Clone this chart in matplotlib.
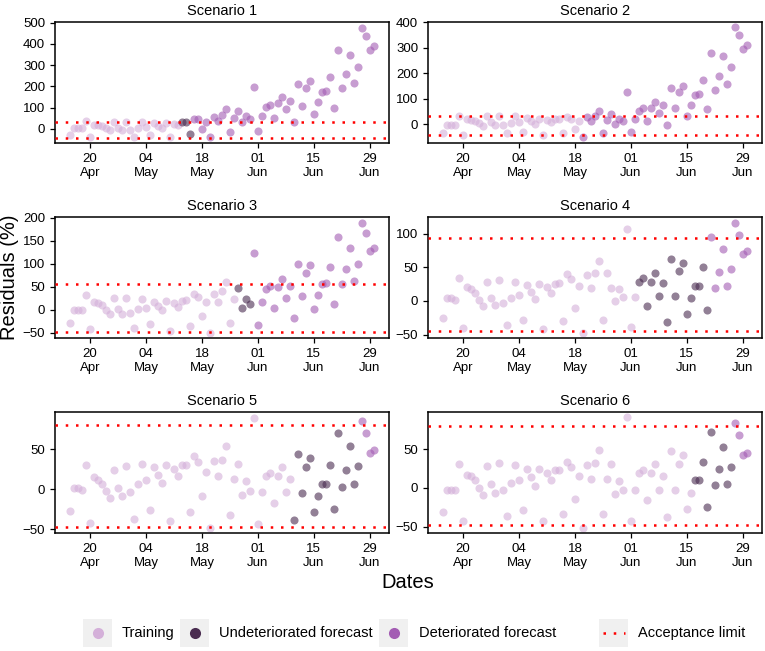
import matplotlib
matplotlib.use('Agg')
import numpy as np
import pandas as pd
import matplotlib.pyplot as plt
import matplotlib.dates as mdates
from matplotlib.patches import Rectangle

plt.rcParams['font.family'] = ['Liberation Sans', 'DejaVu Sans']

# ---------------- data ----------------
start_date = '2020-04-15'
n_days = 77
dates = pd.date_range(start_date, periods=n_days, freq='D')

tick_dates = ['2020-04-20', '2020-05-04', '2020-05-18', '2020-06-01', '2020-06-15', '2020-06-29']

scenario_titles = ['Scenario 1', 'Scenario 2', 'Scenario 3', 'Scenario 4', 'Scenario 5', 'Scenario 6']

s1 = [-28, 2, 2, 2, 36, -40, 19, 16, 11, 3, -8, 30, 3, -8, 30, -6, -37, 6, 30, 9,
      -28, 25, 12, 3, 25, -40, 22, 16, 30, 30, -25, 48, 44, -2, 34, -40, 56, 39, 67, 94,
      -14, 52, 83, 33, 61, 48, 198, -11, 58, 102, 114, 52, 120, 148, 91, 133, 30, 212, 109, 192,
      223, 72, 125, 172, 177, 245, 100, 370, 191, 256, 348, 217, 289, 477, 439, 369, 388]
s2 = [-34, -4, -4, -4, 33, -42, 20, 18, 13, 3, -5, 33, 8, -4, 34, -3, -36, 5, 31, 9,
      -30, 23, 13, 1, 22, -44, 16, 7, 20, 20, -35, 29, 21, -17, 13, -52, 27, 12, 33, 53,
      -33, 18, 40, 1, 21, 13, 126, -31, 20, 52, 63, 14, 65, 87, 44, 76, -3, 141, 63, 126,
      152, 34, 76, 113, 120, 175, 60, 279, 135, 190, 267, 160, 223, 380, 352, 294, 313]
s3 = [-29, 0, 0, 0, 33, -42, 18, 16, 10, 0, -9, 25, 2, -8, 27, -7, -40, 1, 24, 5,
      -31, 18, 9, -1, 19, -45, 16, 7, 20, 21, -34, 35, 29, -13, 18, -49, 35, 18, 41, 61,
      -29, 24, 47, 4, 24, 13, 124, -33, 17, 45, 53, 5, 50, 68, 27, 52, -17, 99, 31, 80,
      97, 2, 32, 57, 58, 94, 12, 158, 57, 89, 135, 63, 99, 190, 168, 129, 134]
s4 = [-25, 4, 4, 2, 35, -40, 21, 18, 12, 2, -7, 28, 5, -6, 31, -3, -36, 5, 28, 9,
      -28, 24, 14, 3, 25, -42, 21, 12, 26, 27, -30, 40, 33, -10, 23, -47, 38, 20, 42, 60,
      -29, 41, 20, 0, 18, 6, 107, -39, 6, 29, 34, -7, 29, 42, 7, 27, -31, 62, 7, 44,
      56, -19, 4, 23, 23, 50, -14, 96, 19, 43, 77, 23, 48, 117, 99, 70, 74]
s5 = [-27, 2, 1, -1, 31, -42, 15, 12, 7, -2, -11, 24, 2, -8, 29, -4, -37, 7, 32, 12,
      -26, 28, 18, 8, 30, -40, 26, 16, 30, 30, -29, 42, 34, -9, 22, -48, 35, 16, 37, 54,
      -32, 13, 32, -7, 10, -2, 90, -44, -4, 17, 21, -17, 16, 28, -4, 13, -39, 44, -5, 28,
      39, -28, -8, 7, 7, 31, -25, 71, 3, 24, 54, 6, 29, 86, 71, 46, 49]
s6 = [-31, -2, -2, -3, 31, -42, 17, 15, 10, 0, -9, 28, 5, -6, 32, -3, -36, 6, 30, 10,
      -28, 24, 14, 3, 24, -43, 19, 10, 23, 23, -33, 34, 27, -14, 15, -51, 30, 11, 32, 49,
      -34, 11, 31, -8, 9, -2, 91, -43, -3, 19, 23, -15, 19, 31, -2, 15, -37, 48, -3, 31,
      42, -27, -7, 10, 10, 33, -24, 72, 4, 24, 53, 5, 27, 84, 68, 43, 45]

# number of training / undeteriorated-forecast points (rest deteriorated)
n_training = [28, 35, 42, 49, 56, 63]
n_undeteriorated = [3, 0, 4, 18, 17, 10]

upper_limits = [33, 34, 56, 94, 81, 80]
lower_limits = [-41, -43, -47, -45, -47, -48]

y_ticks = [[0, 100, 200, 300, 400, 500],
           [0, 100, 200, 300, 400],
           [-50, 0, 50, 100, 150, 200],
           [-50, 0, 50, 100],
           [-50, 0, 50],
           [-50, 0, 50]]

series = [s1, s2, s3, s4, s5, s6]

legend_labels = ['Training', 'Undeteriorated forecast', 'Deteriorated forecast', 'Acceptance limit']

# ---------------- style ----------------
c_train = '#d4b0d9'
c_undet = '#4a2c50'
c_det = '#a35cb3'
pt_alpha = 0.6
pt_size = 34

W, H = 765, 651
fig = plt.figure(figsize=(W / 100, H / 100), dpi=100)

# panel boxes in pixels: left, right, top, bottom
boxes = [(55, 389, 22, 143), (428, 762, 22, 143),
         (55, 389, 217, 338), (428, 762, 217, 338),
         (55, 389, 412, 533), (428, 762, 412, 533)]

tick_dt = pd.to_datetime(tick_dates)

for i in range(6):
    l, r, t, b = boxes[i]
    ax = fig.add_axes([l / W, 1 - b / H, (r - l) / W, (b - t) / H])
    vals = np.array(series[i], dtype=float)
    nt = n_training[i]
    nu = n_undeteriorated[i]
    ax.scatter(dates[:nt], vals[:nt], s=pt_size, color=c_train, alpha=pt_alpha,
               linewidths=0, zorder=2)
    if nu > 0:
        ax.scatter(dates[nt:nt + nu], vals[nt:nt + nu], s=pt_size, color=c_undet,
                   alpha=pt_alpha, linewidths=0, zorder=2)
    ax.scatter(dates[nt + nu:], vals[nt + nu:], s=pt_size, color=c_det, alpha=pt_alpha,
               linewidths=0, zorder=2)
    for lim in (upper_limits[i], lower_limits[i]):
        ax.axhline(lim, color='red', lw=1.8, linestyle=(0, (1, 3.1)), zorder=3)

    span = dates[-1] - dates[0]
    ax.set_xlim(dates[0] - span * 0.05, dates[-1] + span * 0.05)
    lo = min(vals.min(), lower_limits[i])
    hi = max(vals.max(), upper_limits[i])
    pad = (hi - lo) * 0.05
    ax.set_ylim(lo - pad, hi + pad)

    ax.set_xticks(tick_dt)
    ax.xaxis.set_major_formatter(mdates.DateFormatter('%d\n%b'))
    ax.set_yticks(y_ticks[i])
    ax.tick_params(direction='out', length=3.5, width=0.9, labelsize=9.5, pad=3.5,
                   colors='black')
    for sp in ax.spines.values():
        sp.set_linewidth(1.1)
        sp.set_color('black')
    ax.set_title(scenario_titles[i], fontsize=10.5, pad=5)

fig.text(10 / W, 1 - 277 / H, 'Residuals (%)', rotation=90, fontsize=14.5,
         ha='center', va='center')
fig.text(408 / W, 1 - 582 / H, 'Dates', fontsize=14.5, ha='center', va='center')

# ---------------- legend ----------------
lax = fig.add_axes([0, 0, 1, 1], zorder=-1)
lax.set_xlim(0, W)
lax.set_ylim(H, 0)
lax.axis('off')
ly = 633
key_w, key_h = 29, 28
key_centers = [98, 195, 394, 614]
text_x = [122, 219, 419, 638]
key_colors = [c_train, c_undet, c_det]
for k in range(4):
    cx = key_centers[k]
    lax.add_patch(Rectangle((cx - key_w / 2, ly - key_h / 2), key_w, key_h,
                            facecolor='#f0f0f0', edgecolor='none'))
    if k < 3:
        lax.plot([cx], [ly], marker='o', markersize=8, color=key_colors[k],
                 markeredgewidth=0, linestyle='none')
    else:
        lax.plot([cx - 11, cx + 11], [ly, ly], color='red', lw=1.8,
                 linestyle=(0, (1, 3.1)))
    lax.text(text_x[k], ly, legend_labels[k], fontsize=10.5, ha='left', va='center')

fig.savefig('out.png', dpi=100)
